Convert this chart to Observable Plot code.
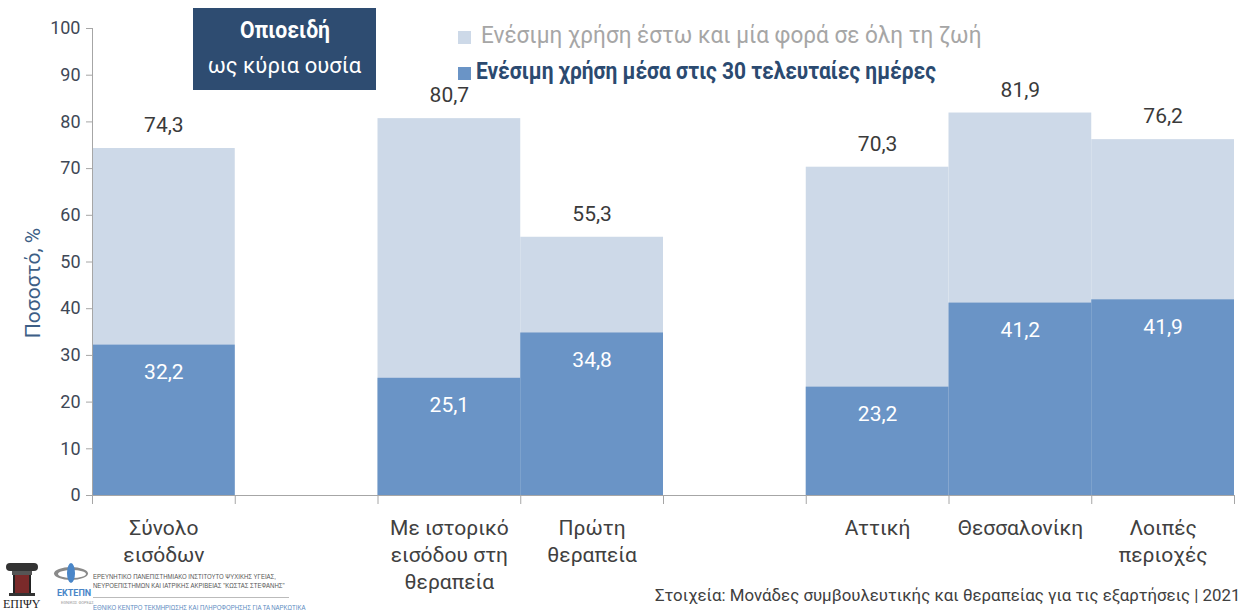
<!DOCTYPE html>
<html>
<head>
<meta charset="utf-8">
<script src="https://cdn.jsdelivr.net/npm/d3@7"></script>
<script src="https://cdn.jsdelivr.net/npm/@observablehq/plot@0.6"></script>
<style>
  html, body { margin: 0; padding: 0; background: #fff; }
  #wrap { position: relative; width: 1250px; height: 613px; overflow: hidden; font-family: "Roboto", "Liberation Sans", sans-serif; }
  #chart { position: absolute; left: 0; top: 0; }
  .abs { position: absolute; white-space: nowrap; }
  #titlebox { left: 193px; top: 8px; width: 183px; height: 82px; background: #2e4c71; color: #fff; text-align: center; font-size: 22px; line-height: 35px; padding-top: 5px; box-sizing: border-box; }
  #titlebox b { font-weight: 700; font-size: 23px; display: inline-block; transform: scaleX(0.92); }
  .sw { position: absolute; width: 13px; height: 13px; }
  .leg { font-size: 23px; transform-origin: 0 50%; }
  #ytitle { left: 33px; top: 283px; transform: translate(-50%, -50%) rotate(-90deg); font-size: 21px; color: #3d5e86; }
  #caption { right: 10px; top: 585px; font-size: 17px; color: #404040; transform: scaleX(0.99); transform-origin: 100% 50%; }
  .inst { font-family: "Liberation Sans", sans-serif; font-size: 7.5px; color: #555; transform: scaleX(0.8); transform-origin: 0 50%; }
</style>
</head>
<body>
<div id="wrap">
  <div id="chart"></div>
  <div id="titlebox" class="abs"><b>Οπιοειδή</b><br>ως κύρια ουσία</div>
  <div class="sw" style="left:458px; top:31px; background:#cdd9e8;"></div>
  <div class="abs leg" style="left:481px; top:22px; color:#a6a6a6; transform: scaleX(0.98);">Ενέσιμη χρήση έστω και μία φορά σε όλη τη ζωή</div>
  <div class="sw" style="left:458px; top:67px; background:#6a94c6;"></div>
  <div class="abs leg" style="left:476px; top:58px; color:#2b4a70; font-weight:700; transform: scaleX(0.91);">Ενέσιμη χρήση μέσα στις 30 τελευταίες ημέρες</div>
  <div id="ytitle" class="abs">Ποσοστό, %</div>
  <div id="caption" class="abs">Στοιχεία: Μονάδες συμβουλευτικής και θεραπείας για τις εξαρτήσεις | 2021</div>
  <!-- footer logos (approximate) -->
  <div class="abs" style="left:6px; top:563px; width:32px; height:8px; background:#333; border-radius:4px;"></div>
  <div class="abs" style="left:12px; top:571px; width:20px; height:4px; background:#555;"></div>
  <div class="abs" style="left:13px; top:575px; width:14px; height:18px; background:#7a2a2a; border-left:2px solid #222; border-right:2px solid #222;"></div>
  <div class="abs" style="left:9px; top:593px; width:26px; height:3px; background:#333;"></div>
  <div class="abs" style="left:3px; top:597px; font-family:'Liberation Serif',serif; font-size:12px; color:#222;">ΕΠΙΨΥ</div>
  <div class="abs" style="left:54px; top:567px; width:34px; height:13px; border-radius:50%; background:#8a8a8a;"></div>
  <div class="abs" style="left:58px; top:570px; width:28px; height:8px; border-radius:50%; background:#fff;"></div>
  <div class="abs" style="left:67px; top:563px; width:8px; height:20px; border-radius:50%; background:#4a86c8;"></div>
  <div class="abs" style="left:57px; top:588px; font-size:9px; color:#4a86c8; font-weight:700;">ΕΚΤΕΠΝ</div>
  <div class="abs" style="left:61px; top:600px; font-size:4px; color:#999;">ΕΘΝΙΚΟΣ ΦΟΡΕΑΣ</div>
  <div class="abs inst" style="left:93px; top:572px;">ΕΡΕΥΝΗΤΙΚΟ ΠΑΝΕΠΙΣΤΗΜΙΑΚΟ ΙΝΣΤΙΤΟΥΤΟ ΨΥΧΙΚΗΣ ΥΓΕΙΑΣ,</div>
  <div class="abs inst" style="left:93px; top:581px;">ΝΕΥΡΟΕΠΙΣΤΗΜΩΝ ΚΑΙ ΙΑΤΡΙΚΗΣ ΑΚΡΙΒΕΙΑΣ "ΚΩΣΤΑΣ ΣΤΕΦΑΝΗΣ"</div>
  <div class="abs" style="left:93px; top:597px; width:196px; height:1px; background:#bbb;"></div>
  <div class="abs inst" style="left:93px; top:603px; color:#5a8ac0;">ΕΘΝΙΚΟ ΚΕΝΤΡΟ ΤΕΚΜΗΡΙΩΣΗΣ ΚΑΙ ΠΛΗΡΟΦΟΡΗΣΗΣ ΓΙΑ ΤΑ ΝΑΡΚΩΤΙΚΑ</div>
</div>
<script>
// ---- data ----
const categories = ["Σύνολο εισόδων", "Με ιστορικό εισόδου στη θεραπεία", "Πρώτη θεραπεία", "Αττική", "Θεσσαλονίκη", "Λοιπές περιοχές"];
const tickLabels = ["Σύνολο\nεισόδων", "Με ιστορικό\nεισόδου στη\nθεραπεία", "Πρώτη\nθεραπεία", "Αττική", "Θεσσαλονίκη", "Λοιπές\nπεριοχές"];
const groups = [0, 1, 1, 2, 2, 2];           // bar groups, separated by one empty slot
const lifetime = [74.3, 80.7, 55.3, 70.3, 81.9, 76.2];   // έστω και μία φορά σε όλη τη ζωή
const last30 = [32.2, 25.1, 34.8, 23.2, 41.2, 41.9];     // μέσα στις 30 τελευταίες ημέρες
const yTicks = [0, 10, 20, 30, 40, 50, 60, 70, 80, 90, 100];

const data = categories.map((c, i) => ({
  category: c, label: tickLabels[i], slot: i + groups[i],
  lifetime: lifetime[i], last30: last30[i]
}));
const nSlots = categories.length + d3.max(groups);
const fmt = v => v.toFixed(1).replace(".", ",");

const gray = "#a6a6a6";
const plot = Plot.plot({
  width: 1250, height: 613,
  marginTop: 28, marginBottom: 118, marginLeft: 92, marginRight: 16,
  style: { fontFamily: "Roboto, 'Liberation Sans', sans-serif", background: "transparent", overflow: "visible" },
  x: { domain: [0, nSlots] },
  y: { domain: [0, 100] },
  marks: [
    Plot.rectY(data, { x1: "slot", x2: d => d.slot + 1, y: "lifetime", fill: "#cdd9e8" }),
    Plot.rectY(data, { x1: "slot", x2: d => d.slot + 1, y: "last30", fill: "#6a94c6" }),
    Plot.ruleX([0], { y1: 0, y2: 100, stroke: gray }),
    Plot.ruleY([0], { stroke: gray }),
    Plot.axisY({ ticks: yTicks, tickSize: 6, tickPadding: 6, stroke: gray, fontSize: 18, color: "#3f4856", label: null }),
    Plot.axisX({ ticks: d3.range(0, nSlots + 1), tickSize: 9, tickFormat: () => "", stroke: gray, label: null }),
    Plot.text(data, { x: d => d.slot + 0.5, y: "lifetime", text: d => fmt(d.lifetime), dy: -23, fontSize: 21, fill: "#3a3a3a" }),
    Plot.text(data, { x: d => d.slot + 0.5, y: "last30", text: d => fmt(d.last30), dy: 27, fontSize: 21, fill: "#ffffff" }),
    Plot.text(data, { x: d => d.slot + 0.5, y: 0, text: "label", dy: 20, lineAnchor: "top", lineHeight: 1.3, fontSize: 21, fill: "#404040" })
  ]
});
document.getElementById("chart").appendChild(plot);
</script>
</body>
</html>
